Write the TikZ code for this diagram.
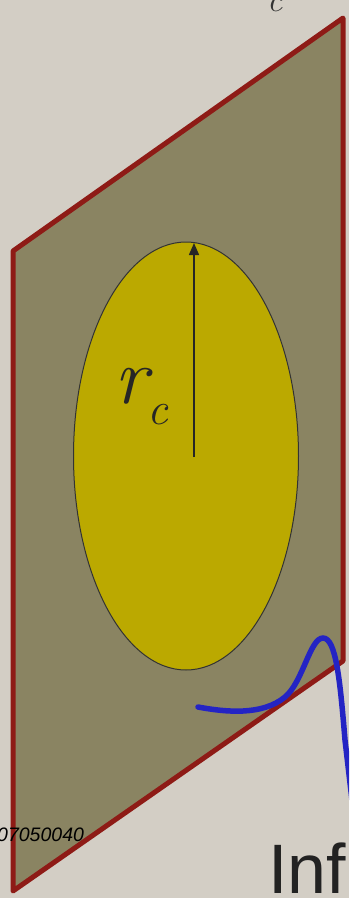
\documentclass[tikz,border=0pt]{standalone}
\usepackage{fontspec}
\newfontfamily\arialf{Liberation Sans}
\usetikzlibrary{arrows.meta,shapes.geometric}
\definecolor{bgc}{HTML}{D3CEC5}
\definecolor{plane}{HTML}{8A8462}
\definecolor{planeedge}{HTML}{8E1B16}
\definecolor{disc}{HTML}{BBA900}
\definecolor{wave}{HTML}{2424C4}
\definecolor{inkc}{HTML}{222222}
\tikzset{
  planestyle/.style={fill=plane, draw=planeedge, line width=5pt, line join=round},
  discstyle/.style={fill=disc, draw=black!80, line width=1pt},
  radius arrow/.style={draw=black!85, line width=1.5pt, -{Triangle[length=12pt,width=10pt]}},
  wavestyle/.style={draw=wave, line width=5.5pt, line cap=round},
}
\begin{document}
\begin{tikzpicture}[x=1pt,y=-1pt]
\useasboundingbox (0,0) rectangle (349,898);
\clip (0,0) rectangle (349,898);
\fill[bgc] (0,0) rectangle (349,898);
% tilted plane
\coordinate (tl) at (13,251);
\coordinate (tr) at (343,18);
\coordinate (br) at (343,661);
\coordinate (bl) at (13,891);
\draw[planestyle] (tl) -- (tr) -- (br) -- (bl) -- cycle;
% disc
\node[discstyle, ellipse, minimum width=225pt, minimum height=428pt, inner sep=0pt] (disc) at (186,456) {};
\coordinate (ctr) at (194,457);
\coordinate (rim) at (194,243);
\draw[radius arrow] (ctr) -- (rim);
\node[anchor=base west, inner sep=0pt, text=black!85] (rc) at (114,403) {\fontsize{80}{80}\selectfont\itshape r\raisebox{-0.27em}{\fontsize{46}{46}\selectfont c}};
% top label fragment
\node[anchor=base west, inner sep=0pt, text=black!80] (topc) at (267,11) {\fontsize{34}{34}\selectfont\itshape c};
% blue wave
\coordinate (w0) at (198,707);
\coordinate (w1) at (323,638);
\coordinate (w2) at (352,800);
\draw[wavestyle] (w0) .. controls (225,712) and (262,716) .. (285,697)
  .. controls (303,682) and (310,638) .. (w1)
  .. controls (336,638) and (340,680) .. (345,740)
  -- (w2);
% texts
\node[anchor=base west, inner sep=0pt, text=black] (code) at (-3,841) {\arialf\itshape\fontsize{19.5}{19.5}\selectfont 07050040};
\node[anchor=base west, inner sep=0pt, text=inkc] (inf) at (268,893) {\arialf\fontsize{70}{70}\selectfont Infl};
\end{tikzpicture}
\end{document}
